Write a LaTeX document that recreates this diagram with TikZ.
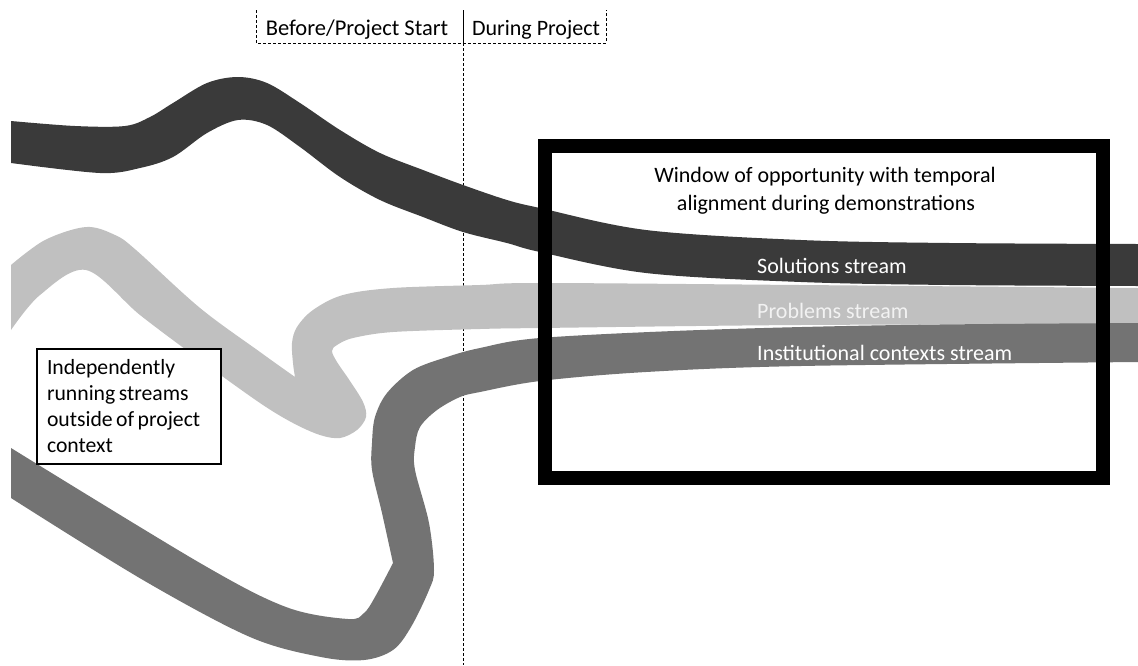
\documentclass[tikz,border=0pt]{standalone}
\usepackage{fontspec}
\setmainfont{Carlito}
\definecolor{solc}{HTML}{3A3A3A}
\definecolor{probc}{HTML}{C0C0C0}
\definecolor{instc}{HTML}{737373}
\definecolor{problabel}{HTML}{F2F2F2}
\begin{document}
\begin{tikzpicture}[x=1pt,y=-1pt,
  txt/.style={font=\fontsize{22}{28}\selectfont, inner sep=0pt},
  dashline/.style={line width=1pt, dash pattern=on 3pt off 2pt},
  smoothplot/.style={smooth, tension=0.55}]
\useasboundingbox (0,0) rectangle (1138,665);
\fill[white] (0,0) rectangle (1138,665);

% header bracket and dividing line
\coordinate (bl) at (256,10);
\coordinate (bbl) at (256,43);
\coordinate (bbr) at (606,43);
\coordinate (br) at (606,10);
\coordinate (mt) at (463,10);
\coordinate (mb) at (463,43);
\coordinate (me) at (463,665);
\draw[dashline] (bl) -- (bbl) -- (bbr) -- (br);
\draw[line width=1pt] (mt) -- (mb);
\draw[dashline] (mb) -- (me);

% solutions stream
\fill[solc] plot[smoothplot] coordinates {(11,121) (75,126) (125,126) (150,117) (173,103) (207,83) (238,77) (267,83) (300,103) (340,130) (380,153) (423,170) (463,185) (507,200) (540,208) (646,230) (801,240) (950,243) (1138,244)}
 -- plot[smoothplot] coordinates {(1138,286) (950,285) (801,282) (646,273) (540,252) (507,243) (463,232) (423,217) (380,200) (340,177) (300,147) (267,125) (238,120) (207,133) (173,157) (140,168) (100,173) (11,163)} -- cycle;

% problems stream
\fill[probc] plot[smoothplot] coordinates {(11,265) (45,240) (86,227) (115,235) (136,250) (200,308) (260,352) (295,377)}
 -- plot[smoothplot] coordinates {(295,377) (293,363) (292,343) (297,327) (313,310) (343,295) (393,288) (480,285) (540,283) (800,285) (1138,288)}
 -- plot[smoothplot] coordinates {(1138,324) (800,325) (540,328) (480,329) (393,332) (353,338) (337,345) (332,351) (337,362) (350,381) (363,402) (366,417) (357,430) (340,438) (320,435) (293,423) (260,403) (200,360) (140,315) (86,270) (40,295) (11,330)} -- cycle;

% institutional contexts stream
\fill[instc] plot[smoothplot] coordinates {(1138,323) (900,325) (700,330) (540,338) (480,348) (447,357) (413,370) (387,393) (375,417) (372,443) (372,470) (382,513) (393,563)}
 -- plot[smoothplot] coordinates {(393,563) (375,597) (364,613) (348,619) (286,607) (200,563) (11,448)}
 -- (11,498)
 -- plot[smoothplot] coordinates {(11,498) (143,580) (250,637) (321,657) (364,660) (393,650) (411,627) (429,590) (434,570) (429,523) (415,470) (415,447) (420,427) (437,410) (460,397) (480,392) (540,381) (646,372) (801,366) (1138,362)} -- cycle;

% window box
\node[draw, line width=14pt, minimum width=558pt, minimum height=332pt, inner sep=0pt] (win) at (824,312) {};

% texts
\node[txt, font=\fontsize{22.5}{28}\selectfont, anchor=base] (h1) at (357,35) {Before/Project Start};
\node[txt, anchor=base] (h2) at (536,35) {During Project};
\node[txt, anchor=base] (w1) at (825,182) {Window of opportunity with temporal};
\node[txt, anchor=base] (w2) at (826,210) {alignment during demonstrations};
\node[txt, anchor=base west, text=white] (sl) at (757,273) {Solutions stream};
\node[txt, anchor=base west, text=problabel] (pl) at (757,318) {Problems stream};
\node[txt, anchor=base west, text=white] (il) at (757,360) {Institutional contexts stream};

\node[draw, line width=1.5pt, fill=white, minimum width=184pt, minimum height=115pt,
  text width=164pt, inner sep=10pt, align=left,
  font=\fontsize{21.7}{26}\selectfont] (ind) at (129,406.5)
  {\spaceskip=0.16em plus 0.05em\relax Independently\\running streams\\outside of project\\context};
\end{tikzpicture}
\end{document}
